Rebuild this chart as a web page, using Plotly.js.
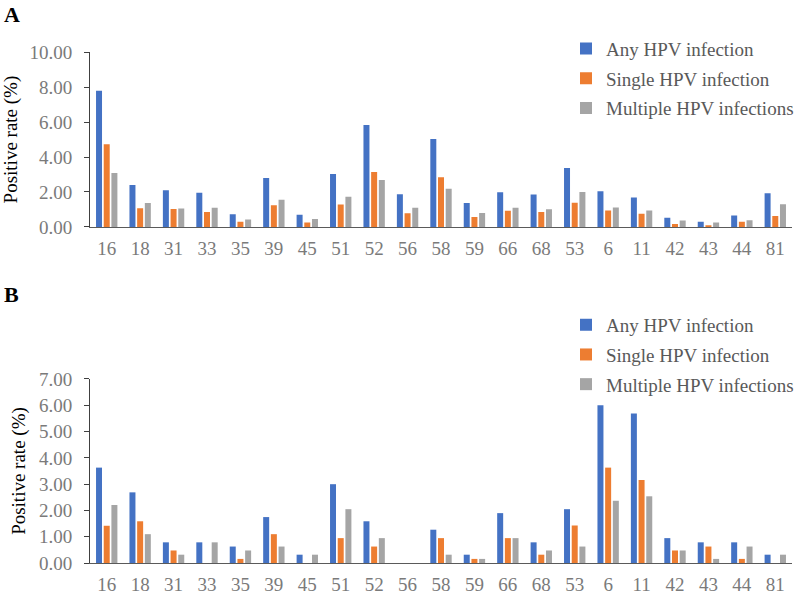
<!DOCTYPE html>
<html>
<head>
<meta charset="utf-8">
<script src="https://cdn.plot.ly/plotly-3.0.1.min.js"></script>
<style>html,body{margin:0;padding:0;background:#fff;}#chart{width:800px;height:594px;}</style>
</head>
<body>
<div id="chart"></div>
<script>
const genotypes = ['16','18','31','33','35','39','45','51','52','56','58','59','66','68','53','6','11','42','43','44','81'];
const seriesNames = ['Any HPV infection','Single HPV infection','Multiple HPV infections'];
const seriesColors = ['#4472C4','#ED7D31','#A5A5A5'];

// Panel A
const anyA      = [7.80,2.40,2.10,1.95,0.73,2.80,0.70,3.03,5.84,1.87,5.04,1.37,1.98,1.85,3.38,2.04,1.68,0.52,0.29,0.65,1.93];
const singleA   = [4.73,1.07,1.03,0.86,0.29,1.24,0.25,1.28,3.15,0.78,2.84,0.57,0.92,0.86,1.39,0.94,0.76,0.17,0.08,0.29,0.63];
const multipleA = [3.09,1.37,1.05,1.09,0.42,1.56,0.45,1.72,2.69,1.09,2.19,0.80,1.09,1.01,2.00,1.11,0.94,0.36,0.25,0.38,1.30];

// Panel B
const anyB      = [3.63,2.69,0.79,0.79,0.63,1.75,0.32,3.00,1.59,0.00,1.27,0.32,1.90,0.79,2.05,6.00,5.69,0.95,0.79,0.79,0.32];
const singleB   = [1.42,1.59,0.48,0.00,0.16,1.10,0.00,0.95,0.63,0.00,0.95,0.16,0.95,0.32,1.43,3.63,3.16,0.48,0.63,0.16,0.00];
const multipleB = [2.21,1.10,0.32,0.79,0.48,0.63,0.32,2.05,0.95,0.00,0.32,0.16,0.95,0.48,0.63,2.37,2.54,0.48,0.16,0.63,0.32];

const panelA = [anyA, singleA, multipleA];
const panelB = [anyB, singleB, multipleB];

const FONT = 'Liberation Serif, Times New Roman, serif';
const traces = [];
panelA.forEach((vals, i) => {
  traces.push({type:'bar', x:genotypes, y:vals, name:seriesNames[i], marker:{color:seriesColors[i]},
    xaxis:'x', yaxis:'y', legend:'legend', legendgroup:'a'+i, hoverinfo:'x+y+name'});
});
panelB.forEach((vals, i) => {
  traces.push({type:'bar', x:genotypes, y:vals, name:seriesNames[i], marker:{color:seriesColors[i]},
    xaxis:'x2', yaxis:'y2', legend:'legend2', legendgroup:'b'+i, hoverinfo:'x+y+name'});
});

const tickFont = {family:FONT, size:19, color:'#7a7a7a'};
const titleFont = {family:FONT, size:19, color:'#000'};
const xCommon = {type:'category', showline:true, linecolor:'#5a5a5a', linewidth:1, ticks:'', showgrid:false,
  tickfont:tickFont, ticklabelstandoff:4, domain:[0.1125,0.99], zeroline:false, fixedrange:true};
const yCommon = {showline:true, linecolor:'#404040', linewidth:1, ticks:'outside', ticklen:5, tickcolor:'#404040',
  showgrid:false, zeroline:false, tickformat:'.2f', tickfont:tickFont, ticklabelstandoff:8, fixedrange:true};

const legendCommon = {font:{family:FONT, size:19, color:'#595959'}, bgcolor:'rgba(0,0,0,0)',
  xanchor:'left', yanchor:'top', tracegroupgap:2, itemclick:false, itemdoubleclick:false};

const layout = {
  width:800, height:594,
  margin:{l:0, r:0, t:0, b:0},
  paper_bgcolor:'#fff', plot_bgcolor:'#fff',
  barmode:'group', bargap:0.31, bargroupgap:0.22,
  showlegend:true,
  xaxis:Object.assign({}, xCommon, {anchor:'y'}),
  yaxis:Object.assign({}, yCommon, {anchor:'x', domain:[0.618,0.912], range:[0,10], dtick:2, tick0:0,
    title:{text:'Positive rate (%)', font:titleFont, standoff:8}}),
  xaxis2:Object.assign({}, xCommon, {anchor:'y2'}),
  yaxis2:Object.assign({}, yCommon, {anchor:'x2', domain:[0.052,0.362], range:[0,7], dtick:1, tick0:0,
    title:{text:'Positive rate (%)', font:titleFont, standoff:8}}),
  legend:Object.assign({}, legendCommon, {x:0.7075, y:0.95}),
  legend2:Object.assign({}, legendCommon, {x:0.7075, y:0.485}),
  annotations:[
    {text:'<b>A</b>', xref:'paper', yref:'paper', x:0.002, y:1.0, xanchor:'left', yanchor:'top', showarrow:false,
      font:{family:FONT, size:22, color:'#000'}},
    {text:'<b>B</b>', xref:'paper', yref:'paper', x:0.002, y:0.528, xanchor:'left', yanchor:'top', showarrow:false,
      font:{family:FONT, size:22, color:'#000'}}
  ]
};

Plotly.newPlot('chart', traces, layout, {displayModeBar:false, staticPlot:false});
</script>
</body>
</html>
